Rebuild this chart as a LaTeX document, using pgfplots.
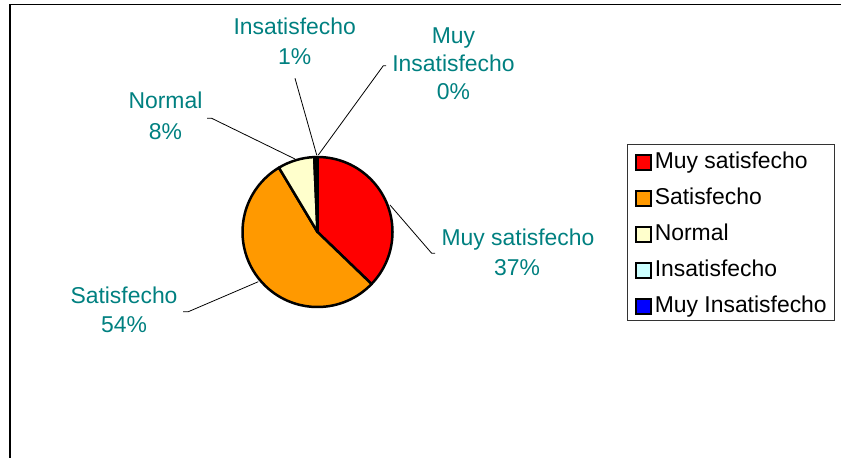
\documentclass[border=0pt]{standalone}
\usepackage{pgfplots}
\usepackage{pgfplotstable}
\pgfplotsset{compat=1.18}
\usepackage{fontspec}
\setmainfont{Liberation Sans}
\definecolor{myred}{RGB}{255,0,0}
\definecolor{myorange}{RGB}{255,153,0}
\definecolor{myyellow}{RGB}{255,255,204}
\definecolor{mycyan}{RGB}{204,255,255}
\definecolor{myblue}{RGB}{0,0,255}
\definecolor{lblteal}{RGB}{0,128,128}
\pgfplotsset{sq/.style={legend image code/.code={\draw[##1,line width=2bp] (0bp,-10bp) rectangle (15bp,5bp); \path (18.5bp,0bp);}}}
\newcommand\lfont{\fontsize{23}{28}\selectfont}
\tikzset{slice/.style={draw=black, line width=2.5bp, line join=round}}
\newcommand\slice[2]{%
  \filldraw[slice, fill=#2] (axis cs:317.5,232) -- ++(\csname sa#1\endcsname:75bp)
    arc[start angle=\csname sa#1\endcsname, end angle=\csname ea#1\endcsname, radius=75bp] -- cycle;}

\pgfplotstableread{
value
37.2
54.2
7.9
0.5
0.2
}\piedata

\begin{document}
\begin{tikzpicture}
% compute slice angles (clockwise from 12 o'clock)
\xdef\cum{0}
\foreach \i in {0,...,4}{
  \pgfplotstablegetelem{\i}{value}\of\piedata
  \pgfmathsetmacro\s{90-3.6*\cum}
  \pgfmathsetmacro\newcum{\cum+\pgfplotsretval}
  \pgfmathsetmacro\e{90-3.6*\newcum}
  \expandafter\xdef\csname sa\i\endcsname{\s}
  \expandafter\xdef\csname ea\i\endcsname{\e}
  \xdef\cum{\newcum}
}
\begin{axis}[
  width=841bp, height=458bp, scale only axis,
  xmin=0, xmax=841, ymin=0, ymax=458, y dir=reverse,
  hide axis, clip=false,
  legend cell align=left,
  legend style={at={(axis cs:627,144)}, anchor=north west,
    font=\lfont, draw=black!80, line width=0.8bp,
    inner xsep=7.5bp, inner ysep=3.5bp, row sep=11bp,
    nodes={inner sep=0pt, text height=21bp, text depth=4bp}},
]
% frame
\draw[line width=1.6bp] (axis cs:10,458) -- (axis cs:10,4.5) -- (axis cs:841,4.5);
% slices
\slice{0}{myred}
\slice{1}{myorange}
\slice{2}{myyellow}
\slice{3}{mycyan}
\slice{4}{myblue}
% leader lines
\draw[line width=0.8bp] (axis cs:390,205) -- (axis cs:431.7,253.3) -- (axis cs:435,253.3);
\draw[line width=0.8bp] (axis cs:258.3,281.7) -- (axis cs:188.3,311.7) -- (axis cs:183,311.7);
\draw[line width=0.8bp] (axis cs:295,159) -- (axis cs:211.7,118.3) -- (axis cs:207,118.3);
\draw[line width=0.8bp] (axis cs:316.7,155) -- (axis cs:295,78.3);
\draw[line width=0.8bp] (axis cs:318.3,155) -- (axis cs:383.3,65.7) -- (axis cs:386,65.7);
% labels
\tikzset{lbl/.style={text=lblteal, font=\lfont, anchor=base, inner sep=0pt}}
\node[lbl] at (axis cs:518,245) {Muy satisfecho};
\node[lbl] at (axis cs:517,275) {37\%};
\node[lbl] at (axis cs:124,303) {Satisfecho};
\node[lbl] at (axis cs:124,332.7) {54\%};
\node[lbl] at (axis cs:165.5,108.3) {Normal};
\node[lbl] at (axis cs:165.5,139.3) {8\%};
\node[lbl] at (axis cs:294.7,35) {Insatisfecho};
\node[lbl] at (axis cs:294.7,65) {1\%};
\node[lbl] at (axis cs:453.5,43.3) {Muy};
\node[lbl] at (axis cs:453.5,71.7) {Insatisfecho};
\node[lbl] at (axis cs:453.5,100) {0\%};
% legend
\addlegendimage{sq, fill=myred, draw=black}
\addlegendentry{Muy satisfecho}
\addlegendimage{sq, fill=myorange, draw=black}
\addlegendentry{Satisfecho}
\addlegendimage{sq, fill=myyellow, draw=black}
\addlegendentry{Normal}
\addlegendimage{sq, fill=mycyan, draw=black}
\addlegendentry{Insatisfecho}
\addlegendimage{sq, fill=myblue, draw=black}
\addlegendentry{Muy Insatisfecho}
\end{axis}
\pgfresetboundingbox
\path (current axis.south west) rectangle (current axis.north east);
\end{tikzpicture}
\end{document}
